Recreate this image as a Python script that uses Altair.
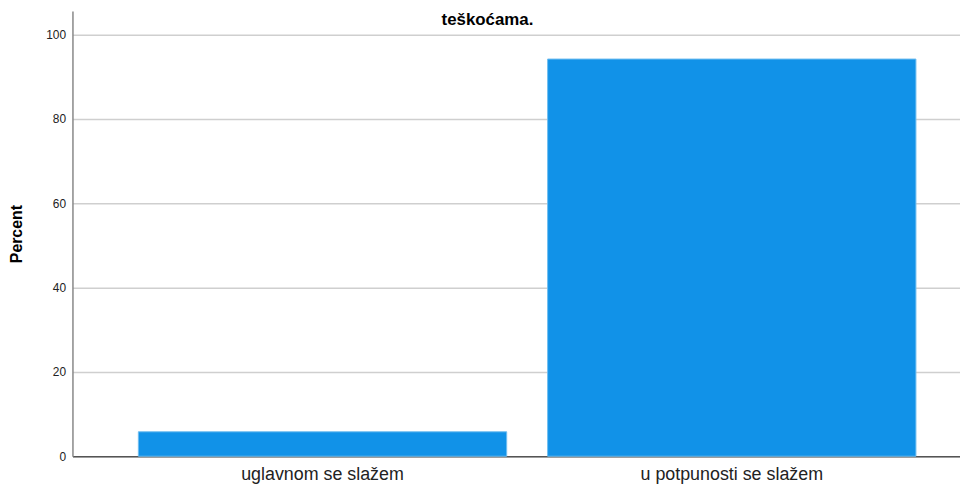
import altair as alt
import pandas as pd

categories = ["uglavnom se slažem", "u potpunosti se slažem"]
percents = [5.8, 94.2]
y_ticks = [0, 20, 40, 60, 80, 100]
title_text = "teškoćama."

df = pd.DataFrame({"cat": categories, "pct": percents})

bars = alt.Chart(df).mark_bar(
    color="#1192e8", stroke="#6fbdf0", strokeWidth=1
).encode(
    x=alt.X(
        "cat:N",
        sort=categories,
        title=None,
        scale=alt.Scale(range=[0, 917], paddingInner=0.1, paddingOuter=0.161),
        axis=alt.Axis(
            labelAngle=0,
            labelFontSize=18,
            labelFont="Liberation Sans",
            labelColor="#222222",
            labelPadding=9,
            labelLimit=500,
            ticks=False,
            domainColor="#555555",
            domainWidth=1.5,
            grid=False,
        ),
    ),
    y=alt.Y(
        "pct:Q",
        title="Percent",
        scale=alt.Scale(domain=[0, 105.6], nice=False),
        axis=alt.Axis(
            values=y_ticks,
            labelFontSize=12,
            labelFont="Liberation Sans",
            labelColor="#222222",
            labelPadding=7,
            ticks=False,
            domainColor="#888888",
            domainWidth=1.5,
            gridColor="#cfcfcf",
            gridWidth=1.5,
            titleFont="Liberation Sans",
            titleFontSize=16,
            titleFontWeight="bold",
            titleColor="#000000",
            titlePadding=21,
        ),
    ),
)

chart = bars.properties(
    width=895,
    height=449,
    background="#ffffff",
    title=alt.TitleParams(
        text=title_text,
        font="Liberation Sans",
        fontSize=17,
        fontWeight="bold",
        color="#000000",
        offset=-18,
        anchor="middle",
        frame="group",
        dx=-29,
    ),
    autosize=alt.AutoSizeParams(type="none"),
    padding={"left": 65, "top": 1, "right": 0, "bottom": 28},
).configure_view(stroke=None)

chart.save("out.html", embed_options={"renderer": "svg", "actions": False})
